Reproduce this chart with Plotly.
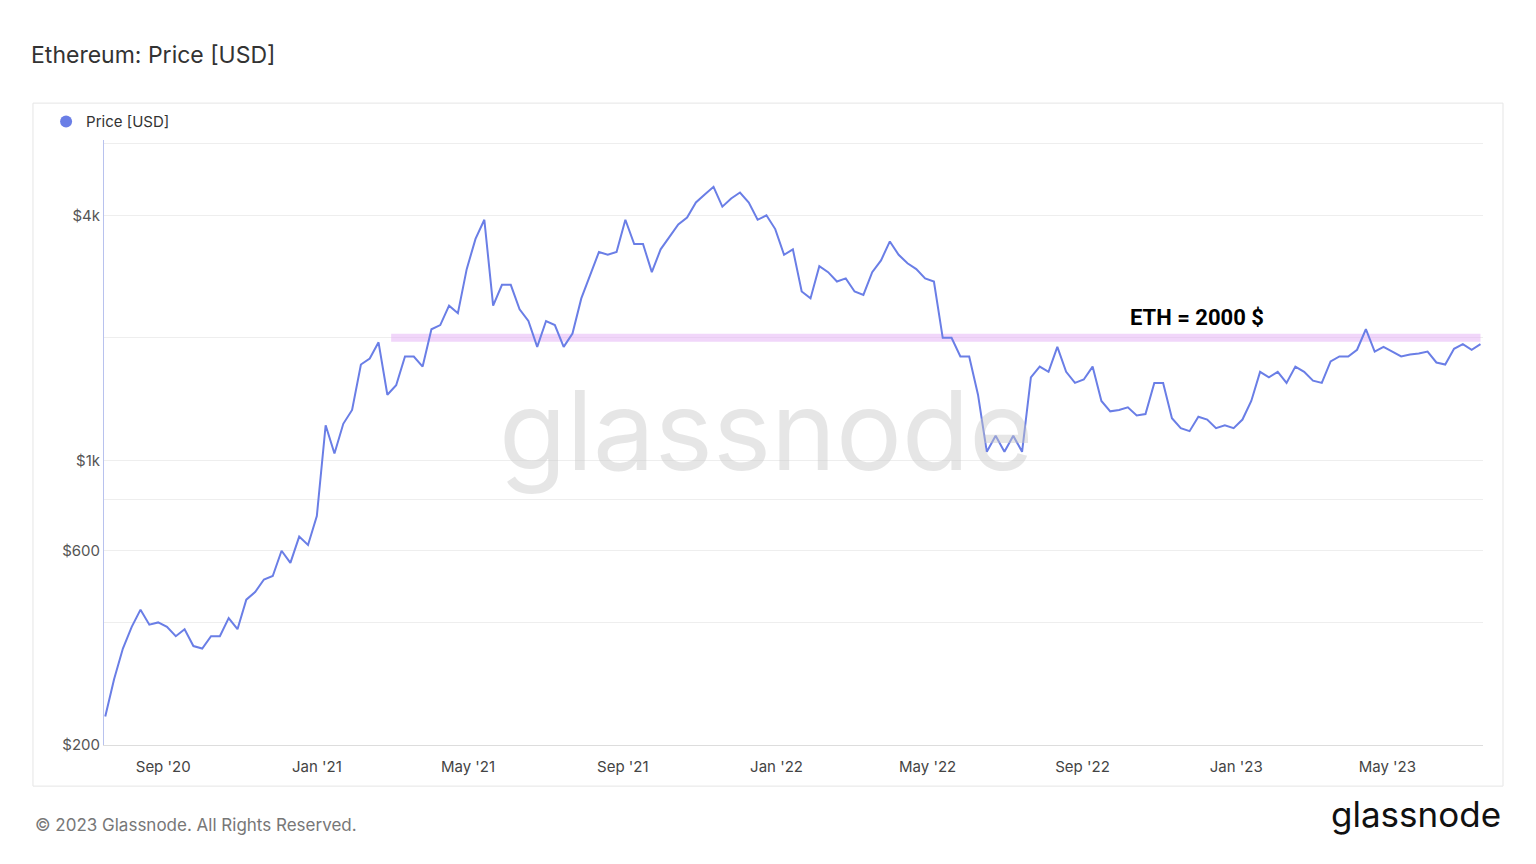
import math
import pandas as pd
import plotly.graph_objects as go

# weekly ETH close, starting 2020-07-17
p2020 = [235, 290, 345, 390, 430, 395, 400, 390, 370, 385, 350, 345, 370, 370, 410, 385,
         455, 475, 510, 520, 600, 560, 650, 620]
p2021 = [730, 1220, 1040, 1230, 1330, 1720, 1780, 1950, 1450, 1530, 1800, 1800, 1700,
         2100, 2150, 2400, 2300, 2950, 3500, 3900, 2400, 2700, 2700, 2350, 2200, 1900,
         2200, 2150, 1900, 2050, 2500, 2850, 3250, 3200, 3250, 3900, 3400, 3400, 2900,
         3300, 3550, 3800, 3950, 4300, 4500, 4700, 4200, 4400, 4550, 4300, 3900, 4000, 3700]
p2022 = [3200, 3300, 2600, 2500, 3000, 2900, 2750, 2800, 2600, 2550, 2900, 3100,
         3450, 3200, 3050, 2950, 2800, 2750, 2000, 2000, 1800, 1800, 1450, 1050, 1150,
         1050, 1150, 1050, 1600, 1700, 1650, 1900, 1650, 1550, 1580, 1700, 1400, 1320, 1330,
         1350, 1290, 1300, 1550, 1550, 1270, 1200, 1180, 1280, 1260, 1200, 1220, 1200]
p2023 = [1260, 1400, 1650, 1600, 1650, 1550, 1700, 1650, 1570, 1550, 1750, 1800, 1800,
         1870, 2100, 1850, 1900, 1850, 1800, 1820, 1830, 1850, 1740, 1720, 1880, 1930,
         1870, 1930]
prices = p2020 + p2021 + p2022 + p2023
dates = pd.date_range("2020-07-17", periods=len(prices), freq="7D")

tick_vals = [200, 400, 600, 800, 1000, 2000, 4000, 6000]
tick_text = ["$200", "", "$600", "", "$1k", "", "$4k", ""]
level = 2000
level_start = "2021-03-01"

fig = go.Figure()
fig.add_trace(go.Scatter(x=[level_start, dates[-1]], y=[level, level], mode="lines",
                         line=dict(color="rgba(230,180,245,0.55)", width=8),
                         showlegend=False, hoverinfo="skip"))
fig.add_trace(go.Scatter(x=dates, y=prices, mode="lines", showlegend=False,
                         line=dict(color="#6a7ee6", width=2)))
fig.add_trace(go.Scatter(x=[None], y=[None], mode="markers", name="Price [USD]",
                         marker=dict(color="#6a7ee6", size=10)))

fig.add_annotation(x="2022-12-01", y=math.log10(level), text="<b>ETH = 2000 $</b>", showarrow=False,
                   yshift=20, font=dict(size=22, color="black", family="Roboto"))
fig.add_annotation(x=0.48, y=0.52, xref="paper", yref="paper", text="glassnode", showarrow=False,
                   font=dict(size=110, color="rgba(200,200,200,0.45)", family="Inter"))
fig.add_shape(type="rect", xref="paper", yref="paper", x0=-0.0515, x1=1.0145, y0=-0.068, y1=1.061,
              line=dict(color="#e5e5e5", width=1), layer="below")

fig.update_layout(
    width=1536, height=864, plot_bgcolor="white", paper_bgcolor="white",
    margin=dict(l=96, r=61, t=132, b=127),
    font=dict(family="Inter", color="#555"),
    title=dict(text="Ethereum: Price [USD]", x=0.015, y=0.955, xanchor="left",
               font=dict(size=23, color="#333")),
    legend=dict(x=-0.042, y=1.03, xanchor="left", yanchor="middle", orientation="h",
                font=dict(size=15, color="#333"), itemsizing="constant", itemwidth=30),
    annotations=list(fig.layout.annotations) + [
        dict(text="© 2023 Glassnode. All Rights Reserved.", xref="paper", yref="paper",
             x=-0.0515, y=-0.152, xanchor="left", showarrow=False,
             font=dict(size=17, color="#777")),
        dict(text="glassnode", xref="paper", yref="paper", x=1.0145, y=-0.152,
             xanchor="right", showarrow=False, font=dict(size=35, color="#111", family="Inter")),
    ],
)
fig.update_xaxes(showgrid=False, showline=True, linecolor="#ddd", ticks="",
                 tickformat="%b '%y", dtick="M4", tick0="2020-09-01", ticklabelstandoff=8,
                 range=["2020-07-16", "2023-07-16"], tickfont=dict(size=15, color="#444"))
fig.update_yaxes(type="log", range=[2.301, 3.787], tickvals=tick_vals, ticktext=tick_text,
                 showgrid=True, gridcolor="#eee", showline=True, linecolor="#b8c2ee",
                 ticks="", tickfont=dict(size=15, color="#555"), zeroline=False)

fig.write_html("out.html")
